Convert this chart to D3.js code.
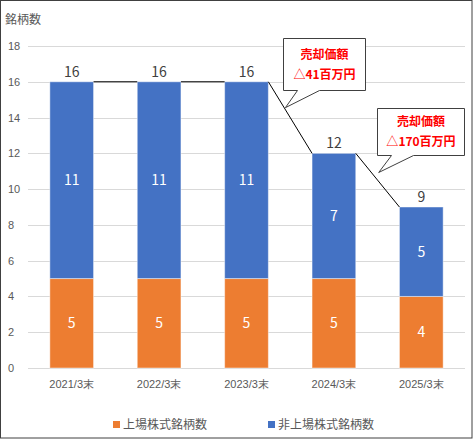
<!DOCTYPE html>
<html lang="ja">
<head>
	<meta charset="UTF-8">
	<title>銘柄数</title>
	<style>
		html, body { margin: 0; padding: 0; background: #fff; }
		svg { display: block; font-family: "Noto Sans CJK JP", "Noto Sans", sans-serif; }
		.tick text { fill: #595959; font-size: 11px; }
	</style>
	<script src="https://cdn.jsdelivr.net/npm/d3@7/dist/d3.min.js"></script>
</head>
<body>
<script>
	// data
	var categories = ["2021/3末", "2022/3末", "2023/3末", "2024/3末", "2025/3末"];
	var listed = [5, 5, 5, 5, 4];
	var unlisted = [11, 11, 11, 7, 5];
	var yTicks = [0, 2, 4, 6, 8, 10, 12, 14, 16, 18];
	var seriesNames = ["上場株式銘柄数", "非上場株式銘柄数"];
	var seriesColors = ["#ED7D31", "#4472C4"];
	// callouts sit on the series line between category `from` and the next one
	var callouts = [
		{from: 2, title: "売却価額", amount: "41"},
		{from: 3, title: "売却価額", amount: "170"}
	];
	// callout box layout: where the tip sits along the line, box size
	var calloutLayout = [
		{t: 0.39, dy: -2, w: 82, h: 52},
		{t: 0.525, dy: -9, w: 87, h: 47}
	];

	var W = 473, H = 439;
	var plot = {left: 28, right: 465, top: 46, bottom: 368};

	var svg = d3.select("body").append("svg")
		.attr("width", W)
		.attr("height", H);

	svg.append("rect")
		.attr("x", 0.5).attr("y", 0.5)
		.attr("width", W - 1.5).attr("height", H - 1.5)
		.attr("fill", "#fff")
		.attr("stroke", "#404040");

	var x = d3.scaleBand().domain(categories).range([plot.left, plot.right]).padding(0);
	var y = d3.scaleLinear().domain([0, 18]).range([plot.bottom, plot.top]);
	var bw = x.bandwidth() * 0.5;
	function bx(c) { return x(c) + (x.bandwidth() - bw) / 2; }

	// grid
	svg.append("g").selectAll("line")
		.data(yTicks)
		.enter().append("line")
		.attr("x1", plot.left).attr("x2", plot.right)
		.attr("y1", function(d) { return Math.round(y(d)) + 0.5; })
		.attr("y2", function(d) { return Math.round(y(d)) + 0.5; })
		.attr("stroke", "#D9D9D9")
		.attr("stroke-width", 1);

	// y axis labels
	var yAxis = svg.append("g")
		.attr("transform", "translate(" + (plot.left - 8) + ",0)")
		.call(d3.axisLeft(y).tickValues(yTicks).tickSize(0).tickPadding(0));
	yAxis.select(".domain").remove();
	yAxis.selectAll(".tick text").attr("text-anchor", "start").attr("x", -12);

	// x axis labels
	var xAxis = svg.append("g")
		.attr("transform", "translate(0," + (plot.bottom + 12) + ")")
		.call(d3.axisBottom(x).tickSize(0).tickPadding(0));
	xAxis.select(".domain").remove();

	// stacked data
	var rows = categories.map(function(c, i) {
		return {cat: c, vals: [listed[i], unlisted[i]], total: listed[i] + unlisted[i]};
	});

	// bars
	rows.forEach(function(r) {
		var base = 0;
		r.vals.forEach(function(v, k) {
			svg.append("rect")
				.attr("x", bx(r.cat))
				.attr("y", y(base + v))
				.attr("width", bw)
				.attr("height", y(base) - y(base + v))
				.attr("fill", seriesColors[k])
				.attr("stroke", "#fff")
				.attr("stroke-opacity", 0.45)
				.attr("stroke-width", 1);
			svg.append("text")
				.attr("x", bx(r.cat) + bw / 2)
				.attr("y", y(base + v / 2))
				.attr("dy", "0.36em")
				.attr("text-anchor", "middle")
				.attr("fill", "#fff")
				.attr("font-size", "14px")
				.text(v);
			base += v;
		});
		svg.append("text")
			.attr("x", bx(r.cat) + bw / 2)
			.attr("y", y(r.total) - 5)
			.attr("text-anchor", "middle")
			.attr("fill", "#404040")
			.attr("font-size", "14px")
			.text(r.total);
	});

	// series lines
	function seriesLine(i) {
		return {
			x1: bx(categories[i]) + bw, y1: y(rows[i].total),
			x2: bx(categories[i + 1]), y2: y(rows[i + 1].total)
		};
	}
	d3.range(rows.length - 1).forEach(function(i) {
		var s = seriesLine(i);
		svg.append("line")
			.attr("x1", s.x1).attr("y1", s.y1)
			.attr("x2", s.x2).attr("y2", s.y2)
			.attr("stroke", "#000")
			.attr("stroke-width", 1);
	});

	// callouts
	callouts.forEach(function(c, i) {
		var L = calloutLayout[i];
		var s = seriesLine(c.from);
		var tx = s.x1 + (s.x2 - s.x1) * L.t;
		var ty = s.y1 + (s.y2 - s.y1) * L.t + L.dy;
		var bl = Math.round(tx - 2) + 0.5, br = bl + L.w;
		var bb = Math.round(ty - 18) + 0.5, bt = bb - L.h;
		var p = "M" + bl + "," + bt + "H" + br + "V" + bb + "H" + (bl + 36) +
			"L" + tx + "," + ty + "L" + (bl + 14) + "," + bb + "H" + bl + "Z";
		svg.append("path")
			.attr("d", p)
			.attr("fill", "#fff")
			.attr("stroke", "#404040")
			.attr("stroke-width", 1);
		var cx = (bl + br) / 2, cy = (bt + bb) / 2;
		svg.append("text")
			.attr("x", cx).attr("y", cy - 10)
			.attr("dy", "0.36em")
			.attr("text-anchor", "middle")
			.attr("fill", "#FF0000")
			.attr("font-size", "12px")
			.attr("font-weight", "bold")
			.text(c.title);
		var t = svg.append("text")
			.attr("x", cx).attr("y", cy + 10)
			.attr("dy", "0.36em")
			.attr("text-anchor", "middle")
			.attr("fill", "#FF0000")
			.attr("font-size", "12px")
			.attr("font-weight", "bold");
		t.append("tspan").attr("font-weight", "normal").text("△");
		t.append("tspan").text(c.amount + "百万円");
	});

	// legend
	var legendX = [113, 268];
	seriesNames.forEach(function(n, k) {
		var g = svg.append("g").attr("transform", "translate(" + legendX[k] + ",421)");
		g.append("rect").attr("width", 7).attr("height", 7).attr("fill", seriesColors[k]);
		g.append("text")
			.attr("x", 10).attr("y", 4)
			.attr("dy", "0.36em")
			.attr("fill", "#595959")
			.attr("font-size", "12px")
			.text(n);
	});

	// title
	svg.append("text")
		.attr("x", 5).attr("y", 24)
		.attr("fill", "#595959")
		.attr("font-size", "12px")
		.text("銘柄数");
</script>
</body>
</html>
